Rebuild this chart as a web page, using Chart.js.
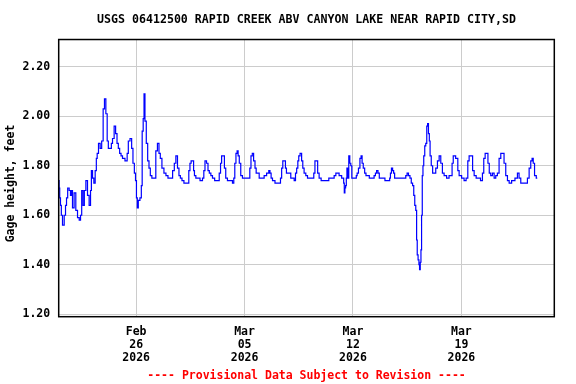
<!DOCTYPE html>
<html>
<head>
<meta charset="utf-8">
<script src="https://cdn.jsdelivr.net/npm/chart.js@4"></script>
<style>
  html, body { margin: 0; padding: 0; background: #ffffff; }
  canvas { display: block; }
</style>
</head>
<body>
<canvas id="c" width="576" height="384"></canvas>
<script>
// Time in days since Feb 21 2026 00:00
const timeDays = [
  0.00,0.05,0.08,0.15,0.19,0.30,0.41,0.47,0.54,0.62,0.73,0.79,0.84,0.94,1.05,1.16,1.27,1.38,1.44,1.53,
  1.61,1.70,1.81,1.91,2.02,2.09,2.13,2.24,2.30,2.41,2.45,2.52,2.62,2.73,2.82,2.92,2.99,3.10,3.16,3.25,
  3.38,3.42,3.53,3.63,3.72,3.81,3.89,3.98,4.07,4.17,4.39,4.45,4.54,4.67,4.75,4.84,4.93,4.99,5.05,5.10,
  5.18,5.31,5.36,5.42,5.49,5.53,5.61,5.70,5.79,5.87,5.96,6.07,6.22,6.32,6.43,6.52,6.60,6.73,6.86,6.99,
  7.12,7.29,7.42,7.51,7.62,7.72,7.81,7.90,8.02,8.15,8.37,8.43,8.52,8.58,8.69,8.73,8.80,8.91,9.02,9.23,
  9.34,9.40,9.49,9.60,9.68,9.77,9.88,9.98,10.16,10.31,10.42,10.48,10.56,10.67,10.73,10.84,10.95,11.17,11.27,11.34,
  11.40,11.49,11.55,11.62,11.70,11.81,11.92,12.14,12.31,12.37,12.46,12.54,12.63,12.72,12.78,12.89,13.00,13.21,13.32,13.53,
  13.60,13.68,13.75,13.86,14.07,14.29,14.35,14.44,14.50,14.61,14.67,14.74,14.93,15.04,15.15,15.26,15.32,15.41,15.47,15.53,
  15.64,15.73,15.79,15.90,16.01,16.12,16.44,16.50,16.59,16.68,16.76,16.87,17.02,17.41,17.47,17.73,17.84,17.95,18.05,18.16,
  18.38,18.42,18.46,18.50,18.55,18.59,18.63,18.70,18.76,18.83,18.89,18.96,19.02,19.19,19.24,19.30,19.41,19.49,19.56,19.62,
  19.71,19.80,19.88,20.01,20.10,20.31,20.42,20.48,20.57,20.66,20.74,20.96,21.17,21.35,21.39,21.45,21.52,21.60,21.65,21.73,
  22.03,22.10,22.16,22.25,22.36,22.46,22.53,22.64,22.72,22.81,22.89,22.96,23.02,23.09,23.13,23.17,23.24,23.28,23.32,23.37,
  23.41,23.45,23.50,23.54,23.60,23.67,23.73,23.80,23.84,23.91,23.95,24.01,24.10,24.19,24.29,24.40,24.51,24.62,24.72,24.83,
  24.94,25.15,25.26,25.37,25.43,25.52,25.74,25.80,25.91,26.12,26.23,26.38,26.45,26.55,26.68,26.77,26.88,27.03,27.16,27.31,
  27.41,27.48,27.59,27.67,27.76,27.84,27.95,28.06,28.17,28.27,28.38,28.49,28.60,28.70,28.81,28.92,29.03,29.14,29.35,29.57,
  29.67,29.78,29.89,30.21,30.32,30.43,30.53,30.60,30.68,30.77,30.90
];
// Gage height, feet
const gageFeet = [
  1.74,1.71,1.67,1.64,1.60,1.56,1.60,1.64,1.67,1.71,1.70,1.68,1.70,1.63,1.69,1.62,1.59,1.58,1.60,1.70,
  1.64,1.70,1.74,1.68,1.64,1.70,1.78,1.75,1.73,1.78,1.83,1.85,1.89,1.87,1.90,2.03,2.07,2.01,1.90,1.87,
  1.87,1.89,1.91,1.96,1.93,1.89,1.87,1.85,1.84,1.83,1.82,1.85,1.90,1.91,1.87,1.81,1.77,1.74,1.67,1.63,
  1.66,1.67,1.72,1.94,1.99,2.09,1.98,1.89,1.82,1.79,1.76,1.75,1.75,1.86,1.89,1.85,1.83,1.79,1.77,1.76,
  1.75,1.75,1.78,1.81,1.84,1.79,1.76,1.75,1.74,1.73,1.73,1.78,1.81,1.82,1.82,1.78,1.76,1.75,1.75,1.74,
  1.75,1.78,1.82,1.81,1.78,1.77,1.76,1.75,1.74,1.74,1.77,1.81,1.84,1.84,1.79,1.75,1.74,1.74,1.73,1.75,
  1.81,1.85,1.86,1.84,1.81,1.76,1.75,1.75,1.75,1.79,1.84,1.85,1.82,1.79,1.77,1.77,1.75,1.75,1.76,1.77,
  1.78,1.77,1.75,1.74,1.73,1.73,1.75,1.79,1.82,1.82,1.79,1.77,1.77,1.75,1.75,1.74,1.77,1.79,1.82,1.84,
  1.85,1.82,1.79,1.77,1.76,1.75,1.75,1.77,1.82,1.82,1.77,1.75,1.74,1.74,1.75,1.75,1.76,1.77,1.77,1.76,
  1.75,1.73,1.69,1.71,1.72,1.75,1.79,1.75,1.84,1.81,1.80,1.75,1.75,1.75,1.76,1.77,1.79,1.83,1.84,1.81,
  1.79,1.77,1.76,1.76,1.75,1.75,1.76,1.77,1.78,1.77,1.75,1.75,1.74,1.74,1.75,1.77,1.79,1.78,1.77,1.75,
  1.75,1.75,1.75,1.75,1.75,1.76,1.77,1.76,1.75,1.73,1.72,1.68,1.64,1.62,1.50,1.44,1.42,1.40,1.38,1.41,
  1.46,1.60,1.76,1.80,1.84,1.88,1.89,1.96,1.97,1.93,1.90,1.84,1.80,1.77,1.77,1.79,1.82,1.84,1.81,1.77,
  1.76,1.75,1.76,1.76,1.81,1.84,1.83,1.78,1.76,1.75,1.74,1.75,1.82,1.84,1.84,1.78,1.76,1.75,1.75,1.74,
  1.77,1.83,1.85,1.85,1.81,1.77,1.76,1.77,1.75,1.76,1.77,1.83,1.85,1.85,1.81,1.76,1.74,1.73,1.74,1.75,
  1.77,1.75,1.73,1.73,1.75,1.79,1.82,1.83,1.81,1.76,1.75
];
const xTickDays = [5, 12, 19, 26];
const xTickLabels = [["Feb","26","2026"], ["Mar","05","2026"], ["Mar","12","2026"], ["Mar","19","2026"]];
const yTicks = [1.2, 1.4, 1.6, 1.8, 2.0, 2.2];

const titleText = "USGS 06412500 RAPID CREEK ABV CANYON LAKE NEAR RAPID CITY,SD";
const yTitleText = "Gage height, feet";
const footText = "---- Provisional Data Subject to Revision ----";

const FONT = "'DejaVu Sans Mono', 'Liberation Mono', monospace";

const framePlugin = {
  id: 'frame',
  afterDatasetsDraw(chart) {
    const a = chart.chartArea, ctx = chart.ctx;
    ctx.save();
    ctx.strokeStyle = '#000000';
    ctx.lineWidth = 1.5;
    ctx.strokeRect(a.left, a.top, a.right - a.left, a.bottom - a.top);
    ctx.restore();
  }
};

// y-axis title, placed slightly below the plot's vertical centre as in the reference
const yTitlePlugin = {
  id: 'yTitle',
  afterDraw(chart) {
    const ctx = chart.ctx;
    ctx.save();
    ctx.translate(11, 183.5);
    ctx.rotate(-Math.PI / 2);
    ctx.font = "bold 11.5px " + FONT;
    ctx.fillStyle = '#000000';
    ctx.textAlign = 'center';
    ctx.textBaseline = 'middle';
    ctx.fillText(yTitleText, 0, 0);
    ctx.restore();
  }
};

new Chart(document.getElementById('c'), {
  type: 'line',
  data: {
    datasets: [{
      data: timeDays.map((d, i) => ({ x: d, y: gageFeet[i] })),
      borderColor: '#0000ff',
      borderWidth: 1.2,
      pointRadius: 0,
      stepped: 'middle',
      fill: false
    }]
  },
  options: {
    responsive: false,
    devicePixelRatio: 1,
    animation: false,
    layout: { padding: { left: 0, right: 21.7, top: 0, bottom: 0 } },
    plugins: {
      legend: { display: false },
      tooltip: { enabled: false },
      title: {
        display: true, text: titleText, color: '#000000', fullSize: false,
        font: { family: FONT, size: 11.6, weight: 'bold', lineHeight: 1.2 },
        padding: { top: 12.6, bottom: 13 }
      },
      subtitle: {
        display: true, text: footText, color: '#ff0000', position: 'bottom', fullSize: false,
        font: { family: FONT, size: 11.5, weight: 'bold', lineHeight: 1.2 },
        padding: { top: 0, bottom: 1.5 }
      }
    },
    scales: {
      x: {
        type: 'linear', min: 0, max: 32,
        afterBuildTicks: s => { s.ticks = xTickDays.map(v => ({ value: v })); },
        afterFit: s => { s.height = 52; },
        ticks: {
          autoSkip: false, maxRotation: 0, minRotation: 0, padding: 8.5, color: '#000000',
          font: { family: FONT, size: 11.5, weight: 'bold', lineHeight: 1.13 },
          callback: (v) => { const i = xTickDays.indexOf(v); return i >= 0 ? xTickLabels[i] : ''; }
        },
        grid: { color: '#cccccc', lineWidth: 1, drawTicks: false },
        border: { display: false }
      },
      y: {
        min: 1.19, max: 2.31,
        afterBuildTicks: s => { s.ticks = yTicks.map(v => ({ value: v })); },
        afterFit: s => { s.width = 58.7; },
        ticks: {
          padding: 8.5, color: '#000000',
          font: { family: FONT, size: 11.5, weight: 'bold' },
          callback: v => Number(v).toFixed(2)
        },
        grid: { color: '#cccccc', lineWidth: 1, drawTicks: false },
        border: { display: false }
      }
    }
  },
  plugins: [framePlugin, yTitlePlugin]
});
</script>
</body>
</html>
